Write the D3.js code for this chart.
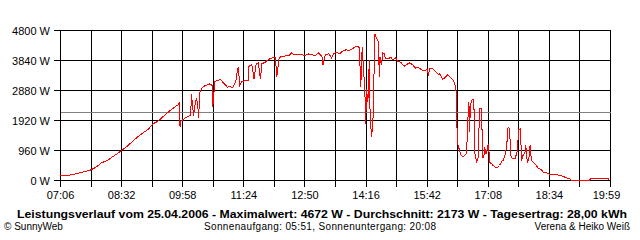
<!DOCTYPE html>
<html>
<head>
<meta charset="utf-8">
<script src="https://cdn.jsdelivr.net/npm/d3@7"></script>
<style>
  body { margin: 0; background: #fff; }
  text { font-family: "Liberation Sans", Arial, sans-serif; fill: #000; }
</style>
</head>
<body>
<div id="chart"></div>
<script>
// sample times of the inverter log
var times = [
  "07:06","07:21","07:31","07:49","07:56","08:03","08:13","08:22","08:32","08:41",
  "08:50","09:00","09:09","09:16","09:23","09:33","09:42","09:51","09:53","09:54",
  "09:55","09:58","10:03","10:09","10:10","10:13","10:15","10:17","10:19","10:20",
  "10:22","10:24","10:27","10:32","10:36","10:39","10:40","10:43","10:46","10:51",
  "10:54","10:58","11:00","11:05","11:08","11:11","11:13","11:15","11:16","11:18",
  "11:21","11:26","11:30","11:31","11:35","11:38","11:41","11:44","11:47","11:49",
  "11:54","11:58","12:03","12:08","12:10","12:13","12:16","12:20","12:27","12:31",
  "12:34","12:41","12:46","12:50","12:55","13:00","13:04","13:09","13:14","13:15",
  "13:18","13:23","13:27","13:30","13:33","13:38","13:42","13:47","13:52","13:56",
  "14:01","14:06","14:08","14:10","14:12","14:14","14:15","14:16","14:18","14:20",
  "14:21","14:23","14:25","14:26","14:28","14:30","14:33","14:34","14:35","14:37",
  "14:39","14:41","14:43","14:48","14:50","14:53","14:57","15:00","15:04","15:09",
  "15:14","15:17","15:21","15:25","15:29","15:33","15:37","15:42","15:43","15:45",
  "15:49","15:54","15:58","15:59","16:03","16:07","16:10","16:15","16:18","16:21",
  "16:22","16:23","16:24","16:27","16:29","16:32","16:36","16:37","16:38","16:40",
  "16:41","16:42","16:44","16:45","16:47","16:48","16:50","16:51","16:53","16:55",
  "16:58","16:59","17:01","17:02","17:04","17:06","17:07","17:08","17:09","17:12",
  "17:14","17:18","17:21","17:23","17:26","17:28","17:30","17:32","17:34","17:35",
  "17:37","17:38","17:39","17:41","17:45","17:47","17:48","17:50","17:52","17:53",
  "17:54","17:56","17:59","18:00","18:02","18:04","18:06","18:07","18:09","18:13",
  "18:15","18:17","18:22","18:24","18:29","18:34","18:43","18:48","18:53","18:57",
  "19:02","19:04","19:29","19:31","19:56","19:57"
];

// power in W at each sample time
var watts = [
  150,180,235,341,427,555,661,800,960,1120,
  1312,1493,1632,1813,1899,2101,2272,2421,2485,1700,
  1900,1941,2027,2080,2773,2080,2400,2650,2400,1995,
  2827,2933,3008,3061,3093,3040,2347,3168,3200,3232,
  3147,3061,2987,3008,2965,3093,3253,3573,3605,3040,
  3168,3200,3200,3680,3701,3253,3733,3765,3253,3733,
  3787,3872,3915,3947,3307,3893,3968,3979,4000,4085,
  4021,4021,4021,4000,4053,4021,4000,4085,3947,3701,
  4021,4053,3925,4053,4107,4053,4128,4181,4160,4213,
  4288,4267,2987,4267,3573,2667,1813,2933,2507,3840,
  2293,1387,1760,2827,4672,4555,4448,3307,3947,3701,
  4085,4053,3893,3915,3947,3861,3925,3808,3787,3659,
  3733,3765,3701,3595,3627,3541,3520,3552,3339,3595,
  3573,3467,3381,3413,3232,3307,3381,3275,3200,3040,
  2827,1867,1173,960,800,768,853,960,1760,2507,
  1547,2400,2560,2592,2592,907,693,608,747,2293,
  2293,747,747,1067,853,1013,1173,1013,587,533,
  480,405,427,480,608,640,747,960,1333,1707,
  1653,1227,800,693,715,853,928,1632,1653,1280,
  640,800,907,1120,587,640,1120,800,608,533,
  480,395,352,267,245,192,192,160,128,85,
  53,0,0,53,53,0
];

var yTicks = [0, 960, 1920, 2880, 3840, 4800];
var xLabels = ["07:06","08:32","09:58","11:24","12:50","14:16","15:42","17:08","18:34","19:59"];
var avgW = 2173;

var titleText = "Leistungsverlauf vom 25.04.2006 - Maximalwert: 4672 W - Durchschnitt: 2173 W - Tagesertrag: 28,00 kWh";
var footLeft = "\u00a9 SunnyWeb";
var footMid = "Sonnenaufgang: 05:51, Sonnenuntergang: 20:08";
var footRight = "Verena & Heiko Weiß";

var toMin = function(s) {
    var p = s.split(":");
    return +p[0] * 60 + +p[1];
};

var width = 640, height = 240;
var x0 = toMin(xLabels[0]), x1 = toMin(xLabels[xLabels.length - 1]);

// x scale in minutes of the day
var xScale = d3.scaleLinear()
    .domain([x0, x1])
    .range([60.5, 610.5]);

// y scale in W
var yScale = d3.scaleLinear()
    .domain([0, 4800])
    .range([180.5, 30.5]);

var svg = d3.select("#chart").append("svg")
    .attr("width", width)
    .attr("height", height);

// vertical grid: 18 steps, every other one labelled
var nSteps = 18;
var gridX = d3.range(nSteps + 1).map(function(i) { return x0 + i * (x1 - x0) / nSteps; });

svg.append("g")
    .selectAll("line")
    .data(gridX)
    .enter().append("line")
    .attr("x1", function(d) { return xScale(d); })
    .attr("x2", function(d) { return xScale(d); })
    .attr("y1", yScale(4800))
    .attr("y2", yScale(0) + 6)
    .attr("stroke", "#000")
    .attr("shape-rendering", "crispEdges");

// horizontal grid with ticks on the left
svg.append("g")
    .selectAll("line")
    .data(yTicks)
    .enter().append("line")
    .attr("x1", 54)
    .attr("x2", xScale(x1))
    .attr("y1", function(d) { return yScale(d); })
    .attr("y2", function(d) { return yScale(d); })
    .attr("stroke", "#000")
    .attr("shape-rendering", "crispEdges");

svg.append("g")
    .selectAll("text")
    .data(yTicks)
    .enter().append("text")
    .attr("x", 50)
    .attr("y", function(d) { return yScale(d) + 4; })
    .attr("text-anchor", "end")
    .style("font-size", "11px")
    .text(function(d) { return d + " W"; });

svg.append("g")
    .selectAll("text")
    .data(xLabels)
    .enter().append("text")
    .attr("x", function(d, i) { return xScale(gridX[i * 2]) - (i == xLabels.length - 1 ? 4 : 0); })
    .attr("y", 199)
    .attr("text-anchor", "middle")
    .style("font-size", "11px")
    .text(function(d) { return d; });

// average line
svg.append("line")
    .attr("x1", xScale(x0))
    .attr("x2", xScale(x1))
    .attr("y1", yScale(avgW))
    .attr("y2", yScale(avgW))
    .attr("stroke", "#808080")
    .attr("shape-rendering", "crispEdges");

// power curve
var line = d3.line()
    .x(function(d, i) { return xScale(toMin(times[i])); })
    .y(function(d) { return yScale(d); });

svg.append("path")
    .datum(watts)
    .attr("d", line)
    .attr("fill", "none")
    .attr("stroke", "#ff0000")
    .attr("stroke-width", 1)
    .attr("shape-rendering", "crispEdges");

// captions
svg.append("text")
    .attr("x", 17)
    .attr("y", 218)
    .attr("textLength", 610)
    .attr("lengthAdjust", "spacingAndGlyphs")
    .style("font-size", "10.5px")
    .style("font-weight", "bold")
    .text(titleText);

svg.append("text")
    .attr("x", 4)
    .attr("y", 230)
    .style("font-size", "10px")
    .text(footLeft);

svg.append("text")
    .attr("x", 204)
    .attr("y", 230)
    .attr("textLength", 232)
    .style("font-size", "10px")
    .text(footMid);

svg.append("text")
    .attr("x", 630)
    .attr("y", 230)
    .attr("text-anchor", "end")
    .style("font-size", "10px")
    .text(footRight);
</script>
</body>
</html>
